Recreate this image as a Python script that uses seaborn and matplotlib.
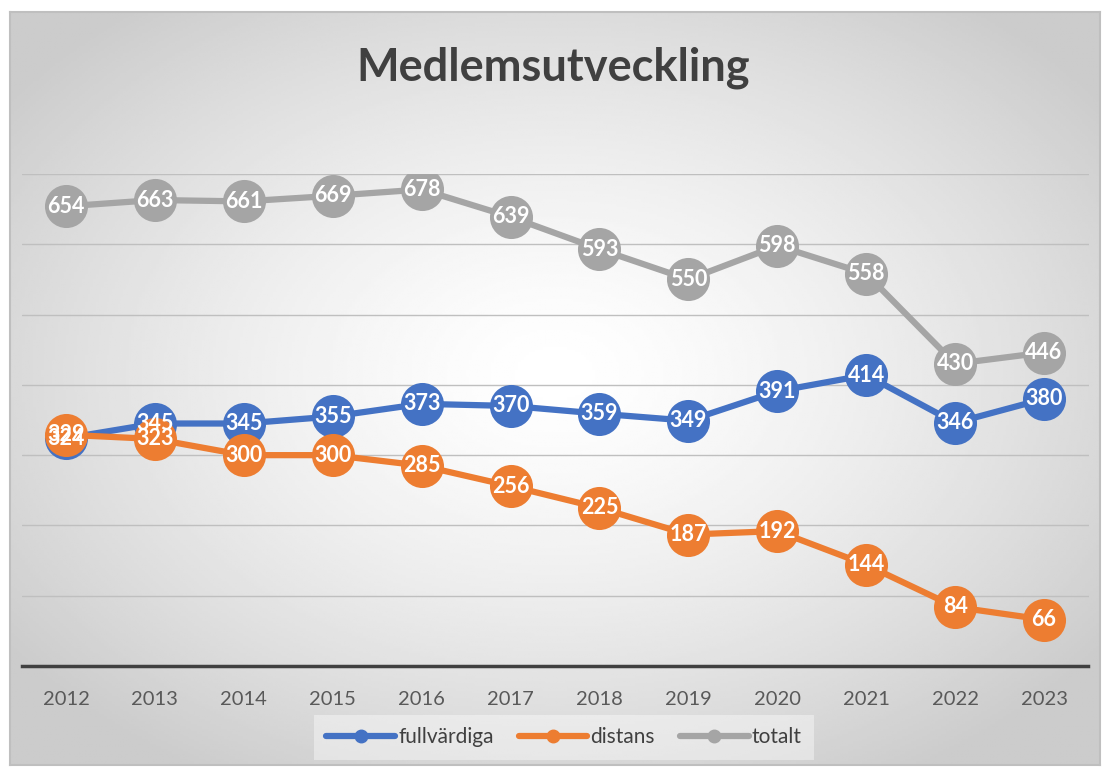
import numpy as np
import pandas as pd
import matplotlib
matplotlib.use("Agg")
import matplotlib.pyplot as plt
import seaborn as sns

years = ["2012", "2013", "2014", "2015", "2016", "2017", "2018", "2019", "2020", "2021", "2022", "2023"]
fullvardiga = [324, 345, 345, 355, 373, 370, 359, 349, 391, 414, 346, 380]
distans = [329, 323, 300, 300, 285, 256, 225, 187, 192, 144, 84, 66]
totalt = [654, 663, 661, 669, 678, 639, 593, 550, 598, 558, 430, 446]

series = ["fullvärdiga", "distans", "totalt"]
colors = {"fullvärdiga": "#4472C4", "distans": "#ED7D31", "totalt": "#A5A5A5"}

df = pd.DataFrame({
    "idx": list(range(len(years))) * 3,
    "value": fullvardiga + distans + totalt,
    "serie": [s for s in series for _ in years],
})

sns.set_style("white")
plt.rcParams["font.family"] = ["Lato", "DejaVu Sans"]

fig = plt.figure(figsize=(11.07, 7.69), dpi=100)

# background with radial gradient and border
bg = fig.add_axes([10 / 1107, 1 - 765 / 769, 1090 / 1107, 753 / 769], zorder=-10)
yy, xx = np.mgrid[0:1:300j, 0:1:400j]
r = np.sqrt(((xx - 0.5) / 0.62) ** 2 + ((yy - 0.48) / 0.62) ** 2)
shade = np.clip(1.0 - 0.2 * r ** 1.4, 0.8, 1.0)
bg.imshow(shade, cmap="gray", vmin=0, vmax=1, aspect="auto", extent=[0, 1, 0, 1])
bg.set_xticks([])
bg.set_yticks([])
for sp in bg.spines.values():
    sp.set_color("#BFBFBF")
    sp.set_linewidth(1.5)

ax = fig.add_axes([21.5 / 1107, 1 - 666 / 769, 1067 / 1107, (666 - 174) / 769])
ax.patch.set_alpha(0)

for v in range(100, 701, 100):
    ax.axhline(v, color="#BFBFBF", lw=1, zorder=0)

sns.lineplot(data=df, x="idx", y="value", hue="serie", hue_order=series,
             palette=colors, marker="o", markersize=31, linewidth=4.5,
             markeredgewidth=0, ax=ax, legend=False, zorder=3)

for s, vals in zip(series, [fullvardiga, distans, totalt]):
    for i, v in enumerate(vals):
        ax.text(i, v, str(v), ha="center", va="center", color="white",
                fontsize=15.5, fontweight="bold", zorder=5)

ax.set_xlim(-0.5, len(years) - 0.5)
ax.set_ylim(0, 700)
ax.set_xticks(range(len(years)))
ax.set_xticklabels(years, fontsize=14.5, color="#595959")
ax.set_yticks([])
ax.set_xlabel("")
ax.set_ylabel("")
ax.tick_params(axis="x", length=0, pad=18)
for sp in ["top", "right", "left"]:
    ax.spines[sp].set_visible(False)
ax.spines["bottom"].set_color("#404040")
ax.spines["bottom"].set_linewidth(2.5)

fig.text(0.5, 1 - 68 / 769, "Medlemsutveckling", ha="center", va="center",
         fontsize=32.5, fontweight="bold", color="#404040")

handles = [plt.Line2D([], [], color=colors[s], lw=4.5, marker="o", markersize=9) for s in series]
leg = fig.legend(handles, series, loc="center", bbox_to_anchor=(564 / 1107, 1 - 737 / 769),
                 ncol=3, fontsize=15, frameon=True, handlelength=3.3, handletextpad=0.15,
                 columnspacing=1.2, borderpad=0.6)
leg.get_frame().set_facecolor("white")
leg.get_frame().set_alpha(0.4)
leg.get_frame().set_edgecolor("none")
leg.get_frame().set_boxstyle("square", pad=0)
for t in leg.get_texts():
    t.set_color("#404040")

plt.savefig("out.png", dpi=100)
